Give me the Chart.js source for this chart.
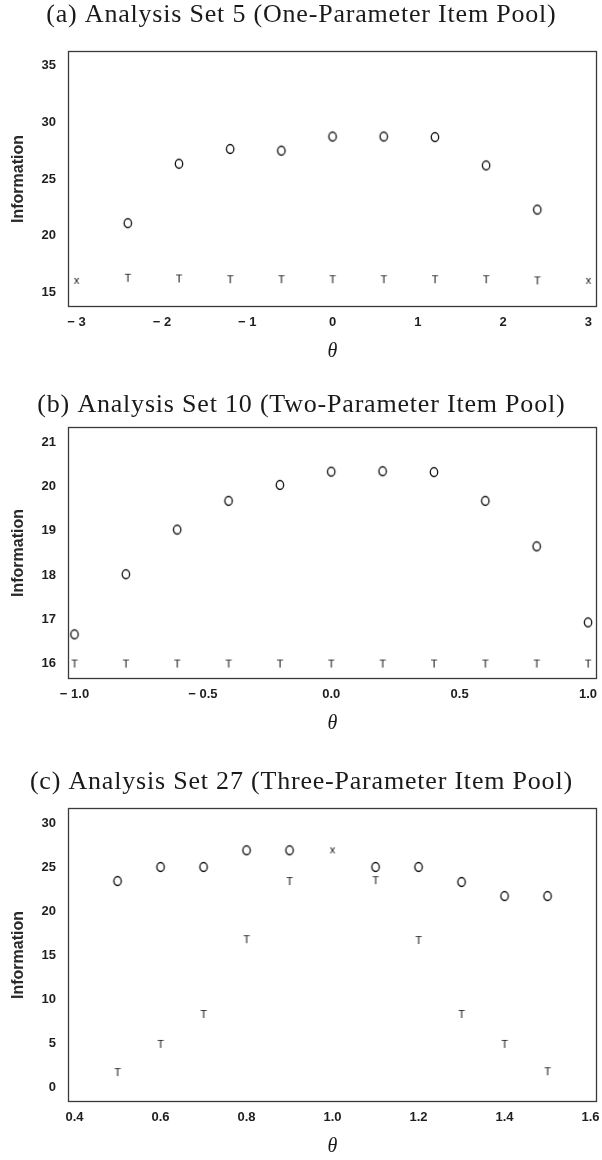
<!DOCTYPE html>
<html>
<head>
<meta charset="utf-8">
<script src="https://cdn.jsdelivr.net/npm/chart.js@4.4.1/dist/chart.umd.min.js"></script>
<style>
  html, body { margin: 0; padding: 0; background: #fff; overflow: hidden; width: 602px; height: 1160px; }
  .panel { position: absolute; left: 0; width: 612px; }
</style>
</head>
<body>
<div class="panel" style="top:0px;height:368px"><canvas id="ca"></canvas></div>
<div class="panel" style="top:376px;height:364px"><canvas id="cb"></canvas></div>
<div class="panel" style="top:757px;height:403px"><canvas id="cc"></canvas></div>
<script>
// ---------- data ----------
const titleA = '(a) Analysis Set 5 (One-Parameter Item Pool)';
const titleB = '(b) Analysis Set 10 (Two-Parameter Item Pool)';
const titleC = '(c) Analysis Set 27 (Three-Parameter Item Pool)';

const thetaA = [-3, -2.4, -1.8, -1.2, -0.6, 0, 0.6, 1.2, 1.8, 2.4, 3];
const infoA_O = [null, 21.1, 26.35, 27.65, 27.5, 28.75, 28.75, 28.7, 26.2, 22.3, null];
const infoA_T = [null, 16.28, 16.22, 16.15, 16.15, 16.15, 16.15, 16.15, 16.15, 16.05, null];
const infoA_X = [16.1, null, null, null, null, null, null, null, null, null, 16.1];
const xTicksA = [-3, -2, -1, 0, 1, 2, 3];
const xLabelsA = ['\u2212 3', '\u2212 2', '\u2212 1', '0', '1', '2', '3'];
const yTicksA = [15, 20, 25, 30, 35];

const thetaB = [-1.0, -0.8, -0.6, -0.4, -0.2, 0, 0.2, 0.4, 0.6, 0.8, 1.0];
const infoB_O = [16.66, 18.02, 19.03, 19.68, 20.04, 20.34, 20.35, 20.33, 19.68, 18.65, 16.93];
const infoB_T = [16.0, 16.0, 16.0, 16.0, 16.0, 16.0, 16.0, 16.0, 16.0, 16.0, 16.0];
const xTicksB = [-1.0, -0.5, 0, 0.5, 1.0];
const xLabelsB = ['\u2212 1.0', '\u2212 0.5', '0.0', '0.5', '1.0'];
const yTicksB = [16, 17, 18, 19, 20, 21];

const thetaC = [0.5, 0.6, 0.7, 0.8, 0.9, 1.0, 1.1, 1.2, 1.3, 1.4, 1.5];
const infoC_O = [23.5, 25.1, 25.1, 27.0, 27.0, null, 25.1, 25.1, 23.4, 21.8, 21.8];
const infoC_T = [1.8, 5.0, 8.4, 16.9, 23.5, null, 23.6, 16.8, 8.4, 5.0, 1.9];
const infoC_X = [null, null, null, null, null, 27.1, null, null, null, null, null];
const xTicksC = [0.4, 0.6, 0.8, 1.0, 1.2, 1.4, 1.6];
const xLabelsC = ['0.4', '0.6', '0.8', '1.0', '1.2', '1.4', '1.6'];
const yTicksC = [0, 5, 10, 15, 20, 25, 30];

// ---------- glyph markers ----------
function glyphO() {
  const c = document.createElement('canvas'); c.width = 14; c.height = 14;
  const g = c.getContext('2d');
  g.strokeStyle = '#111'; g.lineWidth = 1.3;
  g.beginPath(); g.ellipse(7, 7, 3.7, 4.5, 0, 0, Math.PI * 2); g.stroke();
  return c;
}
function glyphText(ch, px) {
  const c = document.createElement('canvas'); c.width = 14; c.height = 14;
  const g = c.getContext('2d');
  g.fillStyle = '#111';
  g.font = px + 'px "Liberation Sans", Arial, sans-serif';
  g.textAlign = 'center'; g.textBaseline = 'middle';
  g.fillText(ch, 7, 7.5);
  return c;
}
const markO = glyphO();
const markT = glyphText('T', 11);
const markX = glyphText('x', 11);

function pts(xs, ys) {
  const out = [];
  xs.forEach((x, i) => { if (ys[i] !== null) out.push({ x: x, y: ys[i] }); });
  return out;
}

const frame = {
  id: 'frame',
  afterDraw(chart) {
    const a = chart.chartArea, ctx = chart.ctx;
    ctx.save();
    ctx.strokeStyle = '#3a3a3a'; ctx.lineWidth = 1.3;
    ctx.strokeRect(Math.round(a.left) + 0.5, Math.round(a.top) + 0.5,
                   Math.round(a.right - a.left) - 1, Math.round(a.bottom - a.top) - 1);
    ctx.restore();
  }
};

// serif panel title (drawn on the chart canvas)
const spacedTitle = {
  id: 'spacedTitle',
  afterDraw(chart, args, opts) {
    const ctx = chart.ctx;
    ctx.save();
    ctx.fillStyle = '#1a1a1a';
    ctx.font = '26px "Liberation Serif", "Times New Roman", serif';
    const sp = 0.8;
    if ('letterSpacing' in ctx) ctx.letterSpacing = sp + 'px';
    ctx.textAlign = 'center'; ctx.textBaseline = 'middle';
    ctx.fillText(opts.text, 301 + sp / 2, opts.y);
    ctx.restore();
  }
};

function makeChart(id, title, titleY, thetaPad, sets, xr, yr, xTicks, xLabels, yTicks) {
  const datasets = sets.map(s => ({
    data: pts(s.xs, s.ys), pointStyle: s.mark, pointRadius: 6, showLine: false
  }));
  return new Chart(document.getElementById(id), {
    type: 'scatter',
    data: { datasets: datasets },
    plugins: [frame, spacedTitle],
    options: {
      responsive: true, maintainAspectRatio: false, animation: false,
      layout: { padding: { left: 0, right: 15, top: 51, bottom: 0 } },
      plugins: {
        legend: { display: false }, tooltip: { enabled: false }, title: { display: false },
        spacedTitle: { text: title, y: titleY }
      },
      scales: {
        x: {
          type: 'linear', min: xr[0], max: xr[1],
          afterBuildTicks: s => { s.ticks = xTicks.map(v => ({ value: v })); },
          ticks: {
            padding: 8, color: '#1e1e1e', maxRotation: 0, autoSkip: false,
            font: { family: '"Liberation Sans", Arial, sans-serif', size: 13, weight: 'bold' },
            callback: (v, i) => xLabels[i]
          },
          grid: { display: false, drawTicks: false },
          border: { display: false },
          title: {
            display: true, text: '\u03b8', color: '#1a1a1a',
            font: { family: '"Liberation Serif", "Times New Roman", serif', size: 20, style: 'italic' },
            padding: thetaPad
          }
        },
        y: {
          type: 'linear', min: yr[0], max: yr[1],
          afterBuildTicks: s => { s.ticks = yTicks.map(v => ({ value: v })); },
          ticks: {
            padding: 12, color: '#1e1e1e', autoSkip: false,
            font: { family: '"Liberation Sans", Arial, sans-serif', size: 13, weight: 'bold' },
            callback: v => String(v)
          },
          grid: { display: false, drawTicks: false },
          border: { display: false },
          title: {
            display: true, text: 'Information', color: '#2a2a2a',
            font: { family: '"Liberation Sans", Arial, sans-serif', size: 16, weight: 'bold' },
            padding: { top: 9.4, bottom: 1 }
          }
        }
      }
    }
  });
}

makeChart('ca', titleA, 15, { top: 1.4, bottom: 4 },
  [{ xs: thetaA, ys: infoA_O, mark: markO }, { xs: thetaA, ys: infoA_T, mark: markT }, { xs: thetaA, ys: infoA_X, mark: markX }],
  [-3.1, 3.1], [13.7, 36.3], xTicksA, xLabelsA, yTicksA);
makeChart('cb', titleB, 29, { top: 1.4, bottom: 4 },
  [{ xs: thetaB, ys: infoB_O, mark: markO }, { xs: thetaB, ys: infoB_T, mark: markT }],
  [-1.025, 1.035], [15.65, 21.35], xTicksB, xLabelsB, yTicksB);
makeChart('cc', titleC, 25, { top: 1.4, bottom: 1 },
  [{ xs: thetaC, ys: infoC_O, mark: markO }, { xs: thetaC, ys: infoC_T, mark: markT }, { xs: thetaC, ys: infoC_X, mark: markX }],
  [0.385, 1.615], [-1.6, 31.8], xTicksC, xLabelsC, yTicksC);
</script>
</body>
</html>
